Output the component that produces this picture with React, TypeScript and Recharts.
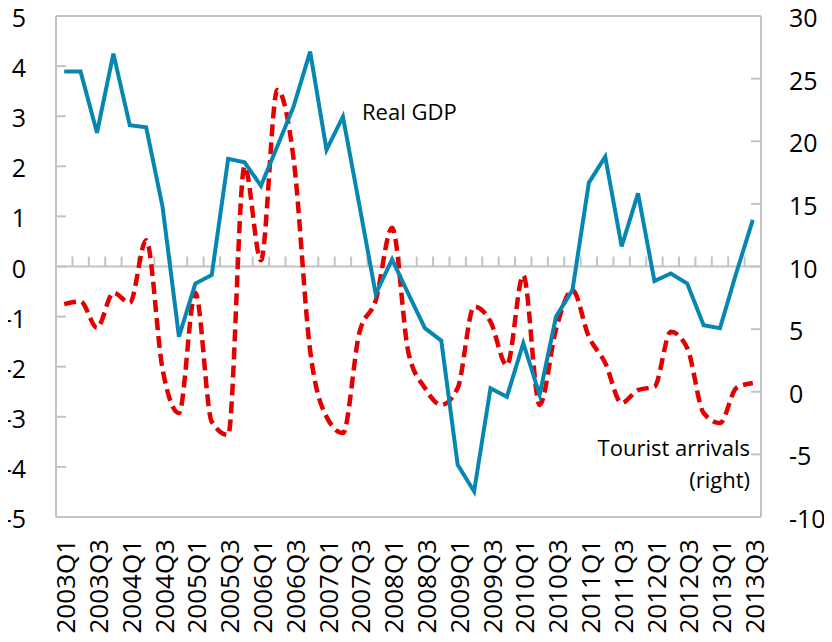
import React from 'react';
import { LineChart, Line, XAxis, YAxis, ReferenceLine } from 'recharts';

const quarters = [
  '2003Q1', '2003Q2', '2003Q3', '2003Q4', '2004Q1', '2004Q2', '2004Q3', '2004Q4',
  '2005Q1', '2005Q2', '2005Q3', '2005Q4', '2006Q1', '2006Q2', '2006Q3', '2006Q4',
  '2007Q1', '2007Q2', '2007Q3', '2007Q4', '2008Q1', '2008Q2', '2008Q3', '2008Q4',
  '2009Q1', '2009Q2', '2009Q3', '2009Q4', '2010Q1', '2010Q2', '2010Q3', '2010Q4',
  '2011Q1', '2011Q2', '2011Q3', '2011Q4', '2012Q1', '2012Q2', '2012Q3', '2012Q4',
  '2013Q1', '2013Q2', '2013Q3',
];

// left axis, %
const realGdp = [
  3.89, 3.89, 2.67, 4.25, 2.82, 2.78, 1.19, -1.4, -0.34, -0.17, 2.15, 2.08, 1.61, 2.4, 3.2, 4.29,
  2.33, 2.99, 1.23, -0.55, 0.14, -0.55, -1.23, -1.48, -3.96, -4.49, -2.43, -2.6, -1.53, -2.56, -1.0, -0.47,
  1.67, 2.19, 0.4, 1.46, -0.29, -0.14, -0.34, -1.17, -1.23, -0.12, 0.93,
];

// right axis, %
const touristArrivals = [
  7.0, 7.2, 5.1, 7.9, 7.1, 12.1, 1.8, -1.7, 7.9, -2.4, -3.45, 18.0, 10.5, 24.1, 18.5, 3.3,
  -2.0, -3.3, 4.7, 7.3, 13.1, 3.1, 0.3, -1.05, 0.3, 6.8, 5.6, 2.1, 9.3, -1.05, 5.0, 8.1,
  4.4, 2.3, -0.9, 0.14, 0.4, 4.8, 3.5, -1.7, -2.5, 0.3, 0.7,
];

const leftTicks = [-5, -4, -3, -2, -1, 0, 1, 2, 3, 4, 5];
const rightTicks = [-10, -5, 0, 5, 10, 15, 20, 25, 30];

const data = quarters.map((q, i) => ({ q, gdp: realGdp[i], tourist: touristArrivals[i] }));

const GRID = '#c3c3c3';
const FONT = '"Open Sans", sans-serif';

const LeftTick = (props: any) => {
  const { x, y, payload } = props;
  return (
    <g>
      <line x1={x} x2={x + 10} y1={y} y2={y} stroke={GRID} strokeWidth={2} />
      <text x={x - 30} y={y + 1} textAnchor="end" dominantBaseline="central" fontSize={25} fill="#000" fontFamily={FONT}>
        {payload.value}
      </text>
    </g>
  );
};

const RightTick = (props: any) => {
  const { x, y, payload } = props;
  return (
    <g>
      <line x1={x - 10} x2={x} y1={y} y2={y} stroke={GRID} strokeWidth={2} />
      <text x={x + 28} y={y + 1} textAnchor="start" dominantBaseline="central" fontSize={25} fill="#000" fontFamily={FONT}>
        {payload.value}
      </text>
    </g>
  );
};

const QuarterTick = (props: any) => {
  const { x, y, payload } = props;
  const tx = x + 2;
  const ty = y + 22;
  return (
    <text
      x={tx}
      y={ty}
      transform={`rotate(-90, ${tx}, ${ty})`}
      textAnchor="end"
      dy="0.35em"
      fontSize={26}
      fill="#000"
      fontFamily={FONT}
    >
      {payload.value}
    </text>
  );
};

// zero line with Excel-style tick marks between the quarters
const ZeroLine = (props: any) => {
  const { x1, x2, y1 } = props;
  const n = quarters.length;
  const step = (x2 - x1) / n;
  const marks = [];
  for (let k = 1; k < n; k++) {
    const tx = x1 + step * k;
    marks.push(<line key={k} x1={tx} x2={tx} y1={y1} y2={y1 - 10} stroke={GRID} strokeWidth={2} />);
  }
  return (
    <g>
      <line x1={x1} x2={x2} y1={y1} y2={y1} stroke={GRID} strokeWidth={2} />
      {marks}
    </g>
  );
};

export default function App() {
  return (
    <div style={{ position: 'relative', width: 832, height: 642, marginLeft: -8, marginTop: -8, background: '#fff' }}>
      <LineChart width={832} height={642} data={data} margin={{ top: 16, right: 0, bottom: 0, left: 0 }}>
        <XAxis
          dataKey="q"
          scale="band"
          interval={1}
          height={125}
          tickLine={false}
          tickSize={0}
          tickMargin={0}
          axisLine={{ stroke: GRID, strokeWidth: 2 }}
          tick={<QuarterTick />}
        />
        <YAxis
          yAxisId="left"
          domain={[-5, 5]}
          ticks={leftTicks}
          width={56}
          tickLine={false}
          tickSize={0}
          tickMargin={0}
          axisLine={{ stroke: GRID, strokeWidth: 2 }}
          tick={<LeftTick />}
        />
        <YAxis
          yAxisId="right"
          orientation="right"
          domain={[-10, 30]}
          ticks={rightTicks}
          width={71}
          tickLine={false}
          tickSize={0}
          tickMargin={0}
          axisLine={{ stroke: GRID, strokeWidth: 2 }}
          tick={<RightTick />}
        />
        <ReferenceLine yAxisId="left" y={5} stroke={GRID} strokeWidth={2} />
        <ReferenceLine yAxisId="left" y={0} shape={<ZeroLine />} />
        <Line
          yAxisId="right"
          dataKey="tourist"
          type="monotone"
          stroke="#e30000"
          strokeWidth={4.5}
          strokeDasharray="12 6"
          dot={false}
          isAnimationActive={false}
        />
        <Line
          yAxisId="left"
          dataKey="gdp"
          type="linear"
          stroke="#0787b0"
          strokeWidth={4}
          dot={false}
          isAnimationActive={false}
        />
      </LineChart>
      <svg width={832} height={642} style={{ position: 'absolute', left: 0, top: 0, pointerEvents: 'none' }}>
        <text x={362} y={111} dominantBaseline="central" fontSize={22} fill="#000" fontFamily={FONT}>
          Real GDP
        </text>
        <text x={750} y={447} textAnchor="end" dominantBaseline="central" fontSize={22} fill="#000" fontFamily={FONT}>
          Tourist arrivals
        </text>
        <text x={750} y={479} textAnchor="end" dominantBaseline="central" fontSize={22} fill="#000" fontFamily={FONT}>
          (right)
        </text>
      </svg>
    </div>
  );
}
